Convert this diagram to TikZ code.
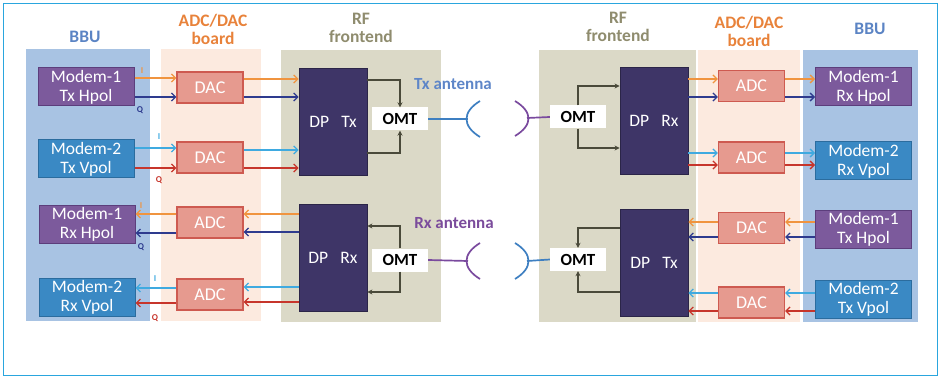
\documentclass[tikz,border=0pt]{standalone}
\usepackage{fontspec}
\setmainfont{Carlito}
\usetikzlibrary{arrows.meta,calc}
\definecolor{framec}{HTML}{2AA6DE}
\definecolor{bbuc}{HTML}{A8C3E3}
\definecolor{adcpc}{HTML}{FCEADF}
\definecolor{rfpc}{HTML}{DBD9C7}
\definecolor{purp}{HTML}{7C5A9C}
\definecolor{purpd}{HTML}{5C3E7C}
\definecolor{blu}{HTML}{3A89C4}
\definecolor{blud}{HTML}{2B6C9E}
\definecolor{convf}{HTML}{E69A8F}
\definecolor{convd}{HTML}{CE5A50}
\definecolor{dpf}{HTML}{3E3567}
\definecolor{oranc}{HTML}{F0943F}
\definecolor{navyc}{HTML}{2E3B8E}
\definecolor{lbluc}{HTML}{3FAAE0}
\definecolor{redc}{HTML}{C7352B}
\definecolor{omtc}{HTML}{4A4A3A}
\definecolor{hbbu}{HTML}{5B84C4}
\definecolor{hadc}{HTML}{E8823A}
\definecolor{hrf}{HTML}{8F8C6E}
\definecolor{txant}{HTML}{5E86C8}
\definecolor{rxant}{HTML}{7B4C9C}
\definecolor{antb}{HTML}{3E7FC1}
\definecolor{antp}{HTML}{7A4A9E}
\tikzset{
  modem/.style={draw, line width=1pt, text=white, minimum width=96pt, minimum height=38pt, inner sep=0pt, align=center, font=\fontsize{17.5}{19}\selectfont},
  modemP/.style={modem, fill=purp, draw=purpd},
  modemB/.style={modem, fill=blu, draw=blud},
  conv/.style={fill=convf, draw=convd, line width=1.3pt, text=white, minimum width=66pt, minimum height=31pt, inner sep=0pt, font=\fontsize{18}{19}\selectfont},
  dp/.style={fill=dpf, draw=dpf!70!black, line width=0.8pt, text=white, minimum width=68pt, minimum height=107pt, inner sep=0pt, font=\fontsize{17.5}{19}\selectfont},
  omt/.style={fill=white, minimum width=56pt, minimum height=23pt, inner sep=0pt, font=\bfseries\fontsize{17}{19}\selectfont},
  header/.style={align=center, font=\bfseries\fontsize{17.5}{18}\selectfont},
  iq/.style={font=\bfseries\fontsize{9}{10}\selectfont, inner sep=0pt},
  sig/.style={line width=1.4pt, -{Straight Barb[length=4pt,width=8pt,line width=1.3pt]}},
  omtl/.style={omtc, line width=1.4pt, -{Stealth[length=5pt,width=5pt]}},
  antl/.style={line width=1.7pt},
  antlab/.style={font=\bfseries\fontsize{17}{18}\selectfont},
}
\begin{document}
\begin{tikzpicture}[x=1pt,y=-1pt]
\useasboundingbox (0,0) rectangle (940,377);
\draw[framec, line width=0.8pt] (3,3) rectangle (937,375);
% panels
\fill[bbuc] (26,49) rectangle (150,321);
\fill[adcpc] (161,49) rectangle (261,321);
\fill[rfpc] (281,50) rectangle (441,322);
\fill[rfpc] (539,50) rectangle (696,322);
\fill[adcpc] (698,50) rectangle (800,322);
\fill[bbuc] (803,50) rectangle (918,322);
% headers
\node[header, text=hbbu] (hL1) at (85,37) {BBU};
\node[header, text=hadc] (hL2) at (213,29) {ADC/DAC\\board};
\node[header, text=hrf] (hL3) at (361,28) {RF\\frontend};
\node[header, text=hrf] (hR3) at (618,27) {RF\\frontend};
\node[header, text=hadc] (hR2) at (749,31) {ADC/DAC\\board};
\node[header, text=hbbu] (hR1) at (870,29) {BBU};
% left nodes
\node[modemP] (m1tL) at (86,87) {Modem-1\\Tx Hpol};
\node[modemB] (m2tL) at (86,159) {Modem-2\\Tx Vpol};
\node[modemP] (m1rL) at (87,224.5) {Modem-1\\Rx Hpol};
\node[modemB] (m2rL) at (87,297) {Modem-2\\Rx Vpol};
\node[conv] (dac1L) at (210,87.5) {DAC};
\node[conv] (dac2L) at (210,157.5) {DAC};
\node[conv] (adc1L) at (210,222.5) {ADC};
\node[conv] (adc2L) at (210,294.5) {ADC};
\node[dp] (dptxL) at (333,122) {DP\hspace{0.7em}Tx};
\node[dp] (dprxL) at (333,258) {DP\hspace{0.7em}Rx};
\node[omt] (omttL) at (400,119) {OMT};
\node[omt] (omtbL) at (400,260) {OMT};
% right nodes
\node[omt] (omttR) at (578,117) {OMT};
\node[omt] (omtbR) at (578,259.5) {OMT};
\node[dp] (dprxR) at (654,121) {DP\hspace{0.7em}Rx};
\node[dp] (dptxR) at (654,263) {DP\hspace{0.7em}Tx};
\node[conv] (adc1R) at (751.5,86) {ADC};
\node[conv] (adc2R) at (751.5,157.5) {ADC};
\node[conv] (dac1R) at (751.5,228) {DAC};
\node[conv] (dac2R) at (751.5,302.5) {DAC};
\node[modemP] (m1rR) at (863.5,87) {Modem-1\\Rx Hpol};
\node[modemB] (m2rR) at (863.5,161) {Modem-2\\Rx Vpol};
\node[modemP] (m1tR) at (863.5,229) {Modem-1\\Tx Hpol};
\node[modemB] (m2tR) at (863.5,299.5) {Modem-2\\Tx Vpol};
% antenna labels
\node[antlab, text=txant] (txlab) at (453,84) {Tx antenna};
\node[antlab, text=rxant] (rxlab) at (454,223) {Rx antenna};
% I/Q labels
\node[iq, text=oranc] (i1) at (142,71) {I};
\node[iq, text=navyc] (q1) at (140,110) {Q};
\node[iq, text=lbluc] (i2) at (159,137) {I};
\node[iq, text=redc] (q2) at (159,180) {Q};
\node[iq, text=oranc] (i3) at (141,206) {I};
\node[iq, text=navyc] (q3) at (141,247) {Q};
\node[iq, text=lbluc] (i4) at (155,279) {I};
\node[iq, text=redc] (q4) at (155,318) {Q};
% left Tx signals
\draw[sig, oranc] (m1tL.east |- 0,78) -- (dac1L.west |- 0,78);
\draw[sig, navyc] (m1tL.east |- 0,97) -- (dac1L.west |- 0,97);
\draw[sig, oranc] (dac1L.east |- 0,79) -- (dptxL.west |- 0,79);
\draw[sig, navyc] (dac1L.east |- 0,97) -- (dptxL.west |- 0,97);
\draw[sig, lbluc] (m2tL.east |- 0,148) -- (dac2L.west |- 0,148);
\draw[sig, redc] (m2tL.east |- 0,168) -- (dac2L.west |- 0,168);
\draw[sig, lbluc] (dac2L.east |- 0,150) -- (dptxL.west |- 0,150);
\draw[sig, redc] (dac2L.east |- 0,168) -- (dptxL.west |- 0,168);
% left Rx signals
\draw[sig, oranc] (adc1L.west |- 0,214) -- (m1rL.east |- 0,214);
\draw[sig, navyc] (adc1L.west |- 0,233) -- (m1rL.east |- 0,233);
\draw[sig, oranc] (dprxL.west |- 0,214) -- (adc1L.east |- 0,214);
\draw[sig, navyc] (dprxL.west |- 0,232) -- (adc1L.east |- 0,232);
\draw[sig, lbluc] (adc2L.west |- 0,288) -- (m2rL.east |- 0,288);
\draw[sig, redc] (adc2L.west |- 0,303) -- (m2rL.east |- 0,303);
\draw[sig, lbluc] (dprxL.west |- 0,287) -- (adc2L.east |- 0,287);
\draw[sig, redc] (dprxL.west |- 0,302) -- (adc2L.east |- 0,302);
% right Rx signals
\draw[sig, oranc] (dprxR.east |- 0,79) -- (adc1R.west |- 0,79);
\draw[sig, navyc] (dprxR.east |- 0,97) -- (adc1R.west |- 0,97);
\draw[sig, oranc] (adc1R.east |- 0,79) -- (m1rR.west |- 0,79);
\draw[sig, navyc] (adc1R.east |- 0,97) -- (m1rR.west |- 0,97);
\draw[sig, lbluc] (dprxR.east |- 0,153) -- (adc2R.west |- 0,153);
\draw[sig, redc] (dprxR.east |- 0,165) -- (adc2R.west |- 0,165);
\draw[sig, lbluc] (adc2R.east |- 0,153) -- (m2rR.west |- 0,153);
\draw[sig, redc] (adc2R.east |- 0,165) -- (m2rR.west |- 0,165);
% right Tx signals
\draw[sig, oranc] (m1tR.west |- 0,222) -- (dac1R.east |- 0,222);
\draw[sig, navyc] (m1tR.west |- 0,237) -- (dac1R.east |- 0,237);
\draw[sig, oranc] (dac1R.west |- 0,222) -- (dptxR.east |- 0,222);
\draw[sig, navyc] (dac1R.west |- 0,237) -- (dptxR.east |- 0,237);
\draw[sig, lbluc] (m2tR.west |- 0,293) -- (dac2R.east |- 0,293);
\draw[sig, redc] (m2tR.west |- 0,311) -- (dac2R.east |- 0,311);
\draw[sig, lbluc] (dac2R.west |- 0,293) -- (dptxR.east |- 0,293);
\draw[sig, redc] (dac2R.west |- 0,311) -- (dptxR.east |- 0,311);
% OMT connectors
\draw[omtl] (dptxL.east |- 0,80) -| (omttL.north);
\draw[omtl] (dptxL.east |- 0,153) -| (omttL.south);
\draw[omtl] (omtbL.north) |- (dprxL.east |- 0,226);
\draw[omtl] (omtbL.south) |- (dprxL.east |- 0,292);
\draw[omtl] (omttR.north) |- (dprxR.west |- 0,86);
\draw[omtl] (omttR.south) |- (dprxR.west |- 0,148);
\draw[omtl] (dptxR.west |- 0,228) -| (omtbR.north);
\draw[omtl] (dptxR.west |- 0,292) -| (omtbR.south);
% antennas
\coordinate (txA) at (468,119);
\coordinate (txB) at (527,118);
\coordinate (rxA) at (468,261);
\coordinate (rxB) at (527,261);
\draw[antl, antb] (omttL.east) -- (txA);
\draw[antl, antb] (480,101) .. controls (462,112) and (462,126) .. (480,137);
\draw[antl, antp] (txB) -- (omttR.west);
\draw[antl, antp] (515,101) .. controls (533,112) and (533,125) .. (515,136);
\draw[antl, antp] (omtbL.east) -- (rxA);
\draw[antl, antp] (480,243) .. controls (462,254) and (462,268) .. (480,279);
\draw[antl, antb] (rxB) -- (omtbR.west);
\draw[antl, antb] (515,243) .. controls (533,254) and (533,268) .. (515,279);
\end{tikzpicture}
\end{document}
